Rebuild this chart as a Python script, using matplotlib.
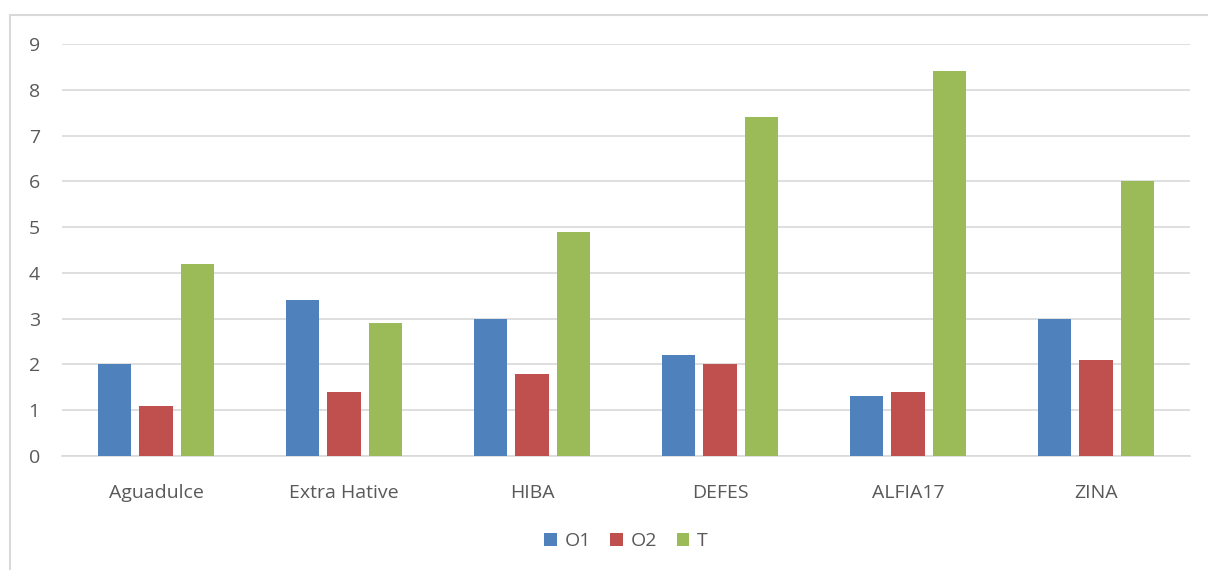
import matplotlib
matplotlib.use("Agg")
import matplotlib.pyplot as plt
import numpy as np
from matplotlib.patches import Rectangle

categories = ["Aguadulce", "Extra Hative", "HIBA", "DEFES", "ALFIA17", "ZINA"]
series_names = ["O1", "O2", "T"]
O1 = [2.0, 3.4, 3.0, 2.2, 1.3, 3.0]
O2 = [1.1, 1.4, 1.8, 2.0, 1.4, 2.1]
T = [4.2, 2.9, 4.9, 7.4, 8.4, 6.0]
yticks = [0, 1, 2, 3, 4, 5, 6, 7, 8, 9]
colors = ["#4F81BD", "#C0504D", "#9BBB59"]

plt.rcParams['font.family'] = ['Open Sans', 'DejaVu Sans']
W, H = 1208, 570
fig = plt.figure(figsize=(W / 100, H / 100), dpi=100)
fig.patches.append(Rectangle((10 / W, -0.1), 1.2, 1 - 15 / H + 0.1, transform=fig.transFigure,
                             fill=False, edgecolor="#D9D9D9", linewidth=1.5))
ax = fig.add_axes([62 / W, 1 - 456 / H, (1190 - 62) / W, (456 - 44) / H])

x = np.arange(len(categories))
bw = 0.176
step = 0.223
for i, (name, vals) in enumerate(zip(series_names, [O1, O2, T])):
    ax.bar(x + (i - 1) * step, vals, width=bw, color=colors[i], label=name, zorder=3)

ax.set_xlim(-0.5, len(categories) - 0.5)
ax.set_ylim(0, 9)
ax.set_yticks(yticks)
ax.set_yticklabels([str(t) for t in yticks])
ax.set_xticks(x)
ax.set_xticklabels(categories)
ax.grid(axis="y", color="#D9D9D9", linewidth=1.2, zorder=0)
for s in ["top", "right", "left"]:
    ax.spines[s].set_visible(False)
ax.spines["bottom"].set_color("#D9D9D9")
ax.spines["bottom"].set_linewidth(1.2)
ax.tick_params(axis="both", length=0, colors="#595959", labelsize=14)
ax.tick_params(axis="y", pad=16)
ax.tick_params(axis="x", pad=20)

leg = fig.legend(loc="center", bbox_to_anchor=(626 / W, 1 - 541 / H), ncol=3, frameon=False,
                 fontsize=14, handlelength=0.65, handleheight=0.65, handletextpad=0.4, columnspacing=1.0)
for t in leg.get_texts():
    t.set_color("#595959")

fig.savefig("out.png", dpi=100)
